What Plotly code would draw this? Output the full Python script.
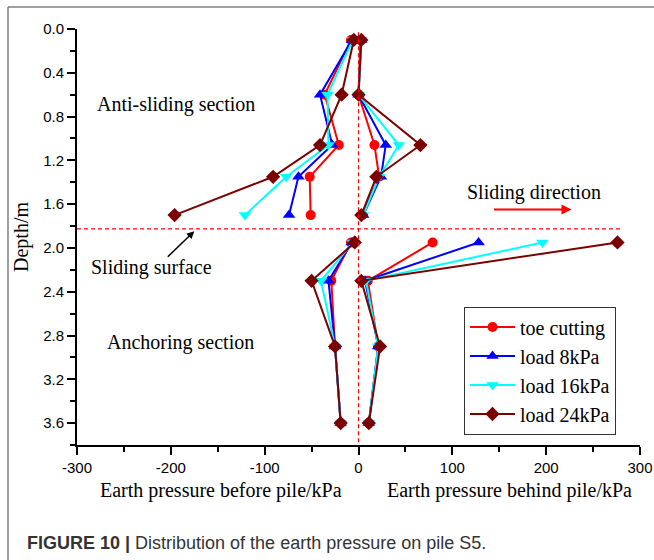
import plotly.graph_objects as go

# ---------------- data ----------------
depth_upper = [0.1, 0.6, 1.06, 1.35, 1.7]
depth_lower = [1.95, 2.3, 2.9, 3.6]

series_names = ["toe cutting", "load 8kPa", "load 16kPa", "load 24kPa"]

# earth pressure before pile (kPa), upper 5 then lower 4 depths
toe_before = [-8, -36, -21, -52, -51, -8, -29, -25, -19]
load8_before = [-7, -41, -28, -64, -74, -7, -32, -25, -19]
load16_before = [-6, -33, -32, -77, -121, -6, -40, -25, -19]
load24_before = [-5, -18, -41, -91, -196, -4, -50, -25, -19]

# earth pressure behind pile (kPa)
toe_behind = [2, 0, 17, 22, 4, 79, 10, 21, 11]
load8_behind = [3, 0, 29, 24, 5, 128, 7, 21, 11]
load16_behind = [3, 0, 43, 22, 5, 196, 8, 21, 11]
load24_behind = [3, 0, 66, 19, 3, 276, 3, 23, 11]

x_ticks = [-300, -200, -100, 0, 100, 200, 300]
y_ticks = [0.0, 0.4, 0.8, 1.2, 1.6, 2.0, 2.4, 2.8, 3.2, 3.6]
sliding_surface_depth = 1.825

# ---------------- style ----------------
colors = ["#FF0000", "#0000FF", "#00FFFF", "#7B0000"]
symbols = ["circle", "triangle-up", "triangle-down", "diamond"]
msizes = [10, 11, 11, 11]

W, H = 654, 560
L, R, T, B = 77, 14, 29, 115
PW, PH = W - L - R, H - T - B


def px(xp):
    return (xp - L) / PW


def py(yp):
    return 1 - (yp - T) / PH


SERIF = "Liberation Serif, Times New Roman, serif"
SANS = "Liberation Sans, Arial, sans-serif"

fig = go.Figure()

befores = [toe_before, load8_before, load16_before, load24_before]
behinds = [toe_behind, load8_behind, load16_behind, load24_behind]

for name, bf, bh, c, s, ms in zip(series_names, befores, behinds, colors, symbols, msizes):
    xs = (bf[:5] + [None] + bh[:5] + [None] + bf[5:] + [None] + bh[5:])
    ys = (depth_upper + [None] + depth_upper + [None] + depth_lower + [None] + depth_lower)
    fig.add_trace(go.Scatter(
        x=xs, y=ys, name=name, mode="lines+markers",
        line=dict(color=c, width=2),
        marker=dict(symbol=s, size=ms, color=c),
        connectgaps=False,
    ))

# reference dashed lines
fig.add_shape(type="line", xref="x", yref="y", x0=0, x1=0, y0=0.03, y1=3.8,
              line=dict(color="#FF0000", width=1.2, dash="4px,3px"))
fig.add_shape(type="line", xref="x", yref="y", x0=-300, x1=280,
              y0=sliding_surface_depth, y1=sliding_surface_depth,
              line=dict(color="#FF0000", width=1.2, dash="4px,3px"))

# outer frame (top & left gray lines)
fig.add_shape(type="line", xref="paper", yref="paper", x0=px(8), x1=px(660), y0=py(7), y1=py(7),
              line=dict(color="#808080", width=1.5))
fig.add_shape(type="line", xref="paper", yref="paper", x0=px(8), x1=px(8), y0=py(7), y1=py(565),
              line=dict(color="#808080", width=1.5))

ann = []
txt = dict(family=SERIF, size=20, color="black")
ctr = dict(xanchor="center", yanchor="middle", showarrow=False)
ann.append(dict(x=-194, y=0.69, xref="x", yref="y", text="Anti-sliding section", font=txt, **ctr))
ann.append(dict(x=187, y=1.49, xref="x", yref="y", text="Sliding direction", font=txt, **ctr))
ann.append(dict(x=-221, y=2.175, xref="x", yref="y", text="Sliding surface", font=txt, **ctr))
ann.append(dict(x=-190, y=2.86, xref="x", yref="y", text="Anchoring section", font=txt, **ctr))
# arrows
ann.append(dict(x=227, y=1.649, xref="x", yref="y", ax=-79, ay=0, text="",
                showarrow=True, arrowhead=2, arrowsize=1, arrowwidth=2, arrowcolor="#FF0000"))
ann.append(dict(x=-175, y=1.847, xref="x", yref="y", ax=-28, ay=27, text="",
                showarrow=True, arrowhead=2, arrowsize=1, arrowwidth=1.5, arrowcolor="black"))
# axis titles
ann.append(dict(x=px(21), y=py(237), xref="paper", yref="paper", text="Depth/m",
                textangle=-90, font=txt, **ctr))
ann.append(dict(x=px(221), y=py(490), xref="paper", yref="paper",
                text="Earth pressure before pile/kPa", font=txt, **ctr))
ann.append(dict(x=px(509), y=py(490), xref="paper", yref="paper",
                text="Earth pressure behind pile/kPa", font=txt, **ctr))
# caption
ann.append(dict(x=px(25), y=py(543), xref="paper", yref="paper", xanchor="left", yanchor="middle",
                text="<b>FIGURE 10 |</b> Distribution of the earth pressure on pile S5.",
                showarrow=False, font=dict(family=SANS, size=18, color="#333333")))

fig.update_layout(
    width=W, height=H,
    margin=dict(l=L, r=R, t=T, b=B, autoexpand=False),
    plot_bgcolor="white", paper_bgcolor="white",
    annotations=ann,
    legend=dict(
        x=px(464), y=py(306.5), xanchor="left", yanchor="top",
        font=dict(family=SERIF, size=20, color="black"),
        bordercolor="#333333", borderwidth=1, bgcolor="white",
        tracegroupgap=0, itemwidth=45,
    ),
    showlegend=True,
)

fig.update_xaxes(
    range=[-300, 300], tickvals=x_ticks, ticktext=[str(v) for v in x_ticks],
    showgrid=False, zeroline=False, showline=True, linecolor="black", linewidth=2,
    ticks="outside", ticklen=8, tickwidth=1.5, tickcolor="black", automargin=False,
    minor=dict(dtick=50, ticks="outside", ticklen=5, tickwidth=1.5, tickcolor="black", showgrid=False),
    tickfont=dict(family=SANS, size=15, color="black"),
)
fig.update_yaxes(
    range=[3.8, 0], tickvals=y_ticks, ticktext=[f"{v:.1f}" for v in y_ticks],
    showgrid=False, zeroline=False, showline=True, linecolor="black", linewidth=2,
    ticks="outside", ticklen=8, tickwidth=1.5, tickcolor="black", automargin=False,
    minor=dict(dtick=0.2, ticks="outside", ticklen=5, tickwidth=1.5, tickcolor="black", showgrid=False),
    tickfont=dict(family=SANS, size=15, color="black"),
)

fig.write_html("out.html")
